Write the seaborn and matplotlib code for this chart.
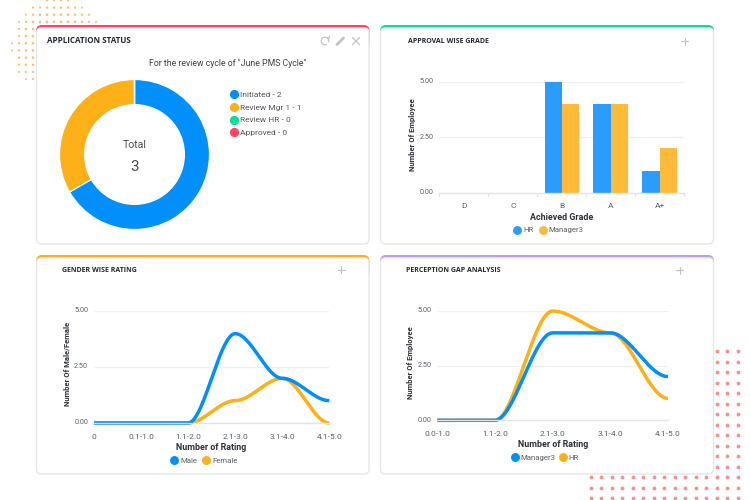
import numpy as np
import pandas as pd
import matplotlib
matplotlib.use("Agg")
import matplotlib.pyplot as plt
from matplotlib.patches import FancyBboxPatch, Arc
from matplotlib.lines import Line2D
from matplotlib.transforms import ScaledTranslation
import seaborn as sns

# ---------- data ----------
status_labels = ["Initiated - 2", "Review Mgr 1 - 1", "Review HR - 0", "Approved - 0"]
status_values = [2, 1, 0, 0]
status_colors = ["#008FFB", "#FEB019", "#00E396", "#FF4560"]

grades = ["D", "C", "B", "A", "A+"]
grade_hr = [0, 0, 5, 4, 1]
grade_mgr = [0, 0, 4, 4, 2]

gender_bins = ["0", "0.1-1.0", "1.1-2.0", "2.1-3.0", "3.1-4.0", "4.1-5.0"]
gender_male = [0, 0, 0, 4, 2, 1]
gender_female = [0, 0, 0, 1, 2, 0]

gap_bins = ["0.0-1.0", "1.1-2.0", "2.1-3.0", "3.1-4.0", "4.1-5.0"]
gap_mgr = [0, 0, 4, 4, 2]
gap_hr = [0, 0, 5, 4, 1]

yticks = [0, 2.5, 5]

BLUE, ORANGE = "#008FFB", "#FEB019"
FONT = "Roboto"
TXT = "#5a5f66"

sns.set_theme(style="white")
plt.rcParams["font.family"] = [FONT, "DejaVu Sans"]

fig = plt.figure(figsize=(7.5, 5), dpi=100, facecolor="white")
W, H = 750, 500
bg = fig.add_axes([0, 0, 1, 1], zorder=0)
bg.set_xlim(0, W)
bg.set_ylim(H, 0)
bg.axis("off")


def px_axes(x0, x1, ytop, ybot, z=2):
    ax = fig.add_axes([x0 / W, 1 - ybot / H, (x1 - x0) / W, (ybot - ytop) / H], zorder=z)
    ax.patch.set_alpha(0)
    return ax


# ---------- decorative dots ----------
ox, oy = np.meshgrid(12 + 7.0 * np.arange(15), 0.4 + 7.15 * np.arange(14))
ox, oy = ox.ravel(), oy.ravel()
dist = np.hypot(ox - 58, oy - 46)
keep = dist < 47
bg.scatter(ox[keep], oy[keep], s=(4.2 - 2.0 * (dist[keep] / 47) ** 3), color="#FCBF80",
           linewidths=0, zorder=1)
px, py = np.meshgrid(590.7 + 10.5 * np.arange(15), 351.3 + 10.5 * np.arange(15))
bg.scatter(px.ravel(), py.ravel(), s=7.5, color="#FB8F8F", linewidths=0, zorder=1)


# ---------- cards ----------
def card(x0, x1, y0, y1, accent):
    bg.add_patch(FancyBboxPatch((x0, y0), x1 - x0, 24, boxstyle="round,pad=0,rounding_size=6",
                                fc=accent, ec="none", zorder=2))
    bg.add_patch(FancyBboxPatch((x0 + 0.5, y0 + 2.8), x1 - x0 - 1, y1 - y0 - 2.8,
                                boxstyle="round,pad=0,rounding_size=5",
                                fc="white", ec="#E4E6E8", lw=1.0, zorder=3))


card(36, 369.5, 25, 244, "#FF4560")
card(380, 714, 25, 244, "#00E396")
card(36, 369.5, 255, 474, "#FEB019")
card(380, 714, 255, 474, "#B9A3E3")


def title(x, y, s, size):
    bg.text(x, y, s, fontsize=size, fontweight="bold", color="#23282f", va="center", ha="left",
            family="Open Sans", zorder=5)


title(47, 40.5, "APPLICATION STATUS", 5.8)
title(407.5, 41.5, "APPROVAL WISE GRADE", 5.05)
title(61.5, 270.3, "GENDER WISE RATING", 5.05)
title(406, 271, "PERCEPTION GAP ANALYSIS", 5.0)

ICON = "#BFC3C7"
for cx, cy in [(684.5, 41), (341, 269.5), (679.5, 270)]:
    bg.plot([cx - 3.5, cx + 3.5], [cy, cy], color=ICON, lw=0.8, zorder=5)
    bg.plot([cx, cx], [cy - 3.5, cy + 3.5], color=ICON, lw=0.8, zorder=5)
bg.add_patch(Arc((325, 41), 7.5, 7.5, theta1=-300, theta2=20, color=ICON, lw=0.9, zorder=5))
bg.plot([327.5, 329.3, 329.3], [37.8, 38.4, 36], color=ICON, lw=0.8, zorder=5)
bg.plot([337, 343.5], [44.5, 38], color=ICON, lw=2.0, zorder=5)
bg.plot([352.5, 359.5], [37.5, 44.5], color=ICON, lw=0.9, zorder=5)
bg.plot([352.5, 359.5], [44.5, 37.5], color=ICON, lw=0.9, zorder=5)

# ---------- donut ----------
bg.text(227.5, 64, 'For the review cycle of "June PMS Cycle"', fontsize=6.3, color="#3d4249",
        ha="center", va="center", zorder=5)
dax = px_axes(59.5, 209.5, 79.5, 229.5)
dax.pie(status_values, colors=status_colors, startangle=90, counterclock=False, radius=1,
        wedgeprops=dict(width=0.335, edgecolor="white", linewidth=0.9))
dax.set_xlim(-1, 1)
dax.set_ylim(-1, 1)
dax.text(0, 0.12, "Total", fontsize=7.6, color="#4a4f55", ha="center", va="center")
dax.text(0, -0.17, "3", fontsize=11, color="#4a4f55", ha="center", va="center")
dh = [Line2D([], [], ls="", marker="o", ms=5.6, mfc=c, mec=c) for c in status_colors]
dax.legend(dh, status_labels, loc="upper left", bbox_to_anchor=(229.7, 91),
           bbox_transform=bg.transData, frameon=False, fontsize=6.0, labelcolor="#50555b",
           handlelength=1.0, handletextpad=0.25, labelspacing=0.72, borderpad=0, borderaxespad=0)


# ---------- shared cartesian styling ----------
def style(ax, ylab_x, ylab_y, xlab_x, xlab_y, ylabel, xlabel):
    ax.set_ylim(0, 5)
    ax.set_yticks(yticks)
    ax.set_yticklabels([f"{v:.2f}" for v in yticks])
    ax.grid(axis="y", color="#F0F0F1", lw=1)
    ax.grid(axis="x", visible=False)
    ax.set_axisbelow(True)
    for s in ["top", "right", "left"]:
        ax.spines[s].set_visible(False)
    ax.spines["bottom"].set_color("#E4E4E6")
    ax.spines["bottom"].set_linewidth(1)
    ax.tick_params(axis="y", length=0, labelsize=5.2, labelcolor=TXT, pad=4.2)
    for t in ax.get_yticklabels():
        t.set_transform(t.get_transform() + ScaledTranslation(0, 1.3 / 100, fig.dpi_scale_trans))
    ax.tick_params(axis="x", length=3, width=0.8, color="#E4E4E6", labelsize=6, labelcolor=TXT, pad=5)
    ax.set_xlabel(xlabel, fontsize=6.4, fontweight="bold", color="#2c3036")
    ax.set_ylabel(ylabel, fontsize=5.5, fontweight="bold", color="#2c3036")
    ax.xaxis.set_label_coords(xlab_x, xlab_y, transform=bg.transData)
    ax.yaxis.set_label_coords(ylab_x, ylab_y, transform=bg.transData)
    ax.xaxis.label.set_va("center")
    ax.yaxis.label.set_va("center")


def bottom_legend(ax, names, colors, cx, cy, colsp):
    h = [Line2D([], [], ls="", marker="o", ms=5.4, mfc=c, mec=c) for c in colors]
    ax.legend(h, names, ncol=2, loc="center", bbox_to_anchor=(cx, cy), bbox_transform=bg.transData,
              frameon=False, fontsize=5.6, labelcolor=TXT, handlelength=0.9, handletextpad=0.3,
              columnspacing=colsp, borderpad=0, borderaxespad=0)


# ---------- bars ----------
bar_df = pd.DataFrame({"grade": grades * 2,
                       "value": grade_hr + grade_mgr,
                       "series": ["HR"] * 5 + ["Manager3"] * 5})
bax = px_axes(439.3, 684, 82, 192.7)
sns.barplot(data=bar_df, x="grade", y="value", hue="series", order=grades, hue_order=["HR", "Manager3"],
            palette=["#2B9CFC", "#FEBB3A"], saturation=1, width=0.7, gap=0, ax=bax, legend=False,
            linewidth=0)
bax.set_xlim(-0.5, 4.5)
style(bax, 412, 135, 562, 217, "Number Of Employee", "Achieved Grade")
bax.set_xticks(np.arange(5))
bax.set_xticklabels(grades)
bax.tick_params(axis="x", length=0, pad=7.5)
for xb in np.arange(-0.5, 5):
    bax.plot([xb, xb], [0, -0.13], color="#E4E4E6", lw=0.8, clip_on=False)
bottom_legend(bax, ["HR", "Manager3"], ["#2B9CFC", "#FEBB3A"], 548.5, 230, 0.75)


# ---------- smoothed lines ----------
def smooth(values, n=40):
    """Curve between the readings, flat at each reading, as the reference draws it."""
    t = np.linspace(0, 1, n)
    xs, ys = [], []
    for i in range(len(values) - 1):
        y0, y1 = values[i], values[i + 1]
        xs.append(i + t)
        ys.append(y0 + (y1 - y0) * (3 * t ** 2 - 2 * t ** 3))
    return np.concatenate(xs), np.concatenate(ys)


def curve_df(series):
    rows = []
    for name, vals in series.items():
        xs, ys = smooth(vals)
        rows.append(pd.DataFrame({"x": xs, "y": ys, "series": name}))
    return pd.concat(rows, ignore_index=True)


def line_panel(ax, bins, series, draw_order, legend_order, ylab, xlab, ylabel, legend_c, colsp):
    # the orange series is drawn first so the blue one sits on top, as in the reference
    df = curve_df(series)
    colors = {legend_order[0]: BLUE, legend_order[1]: ORANGE}
    sns.lineplot(data=df, x="x", y="y", hue="series", hue_order=draw_order, palette=colors,
                 sort=False, estimator=None, errorbar=None, linewidth=2.5, legend=False, ax=ax,
                 solid_capstyle="butt")
    ax.set_xlim(0, len(bins) - 1)
    ax.set_xticks(np.arange(len(bins)))
    ax.set_xticklabels(bins)
    style(ax, ylab[0], ylab[1], xlab[0], xlab[1], ylabel, "Number of Rating")
    for ln in ax.lines:
        ln.set_clip_on(False)
    bottom_legend(ax, legend_order, [BLUE, ORANGE], legend_c[0], legend_c[1], colsp)


gax = px_axes(94, 329.3, 311.3, 423)
line_panel(gax, gender_bins, {"Female": gender_female, "Male": gender_male}, ["Female", "Male"],
           ["Male", "Female"], (66.7, 364), (211, 447.5), "Number Of Male/Female", (204, 460.3), 0.75)

pax = px_axes(437.3, 668, 311, 420.3)
line_panel(pax, gap_bins, {"HR": gap_hr, "Manager3": gap_mgr}, ["HR", "Manager3"],
           ["Manager3", "HR"], (410.7, 363), (552.7, 444.3), "Number Of Employee", (545, 457.3), 0.45)

fig.savefig("out.png", dpi=100)
